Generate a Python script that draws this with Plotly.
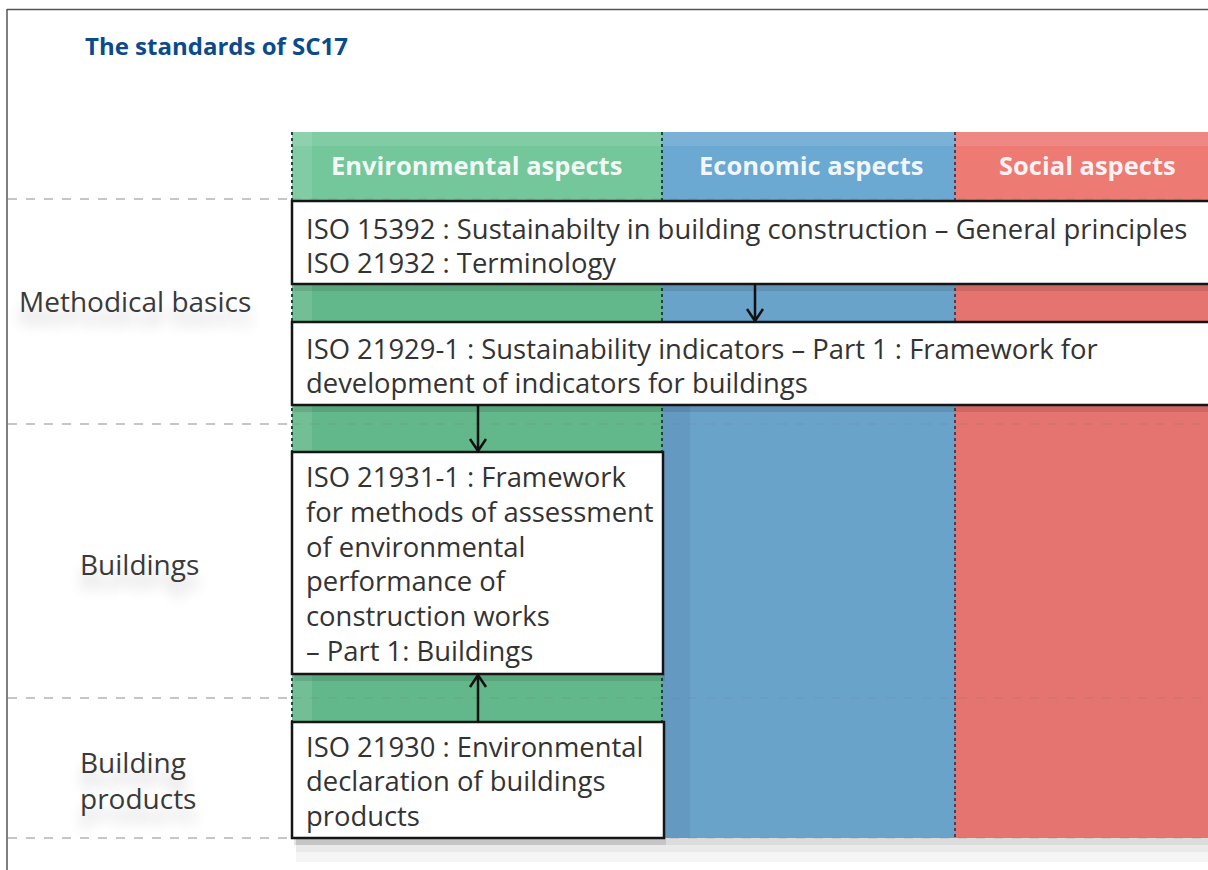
import plotly.graph_objects as go

# ---------------- data (texts) ----------------
TITLE = "The standards of SC17"
aspects = ["Environmental aspects", "Economic aspects", "Social aspects"]
levels = ["Methodical basics", "Buildings", "Building<br>products"]
std_general = ["ISO 15392 : Sustainabilty in building construction – General principles",
               "ISO 21932 : Terminology"]
std_indicators = ["ISO 21929-1 : Sustainability indicators – Part 1 : Framework for",
                  "development of indicators for buildings"]
std_buildings = ["ISO 21931-1 : Framework", "for methods of assessment", "of environmental",
                 "performance of", "construction works", "– Part 1: Buildings"]
std_products = ["ISO 21930 : Environmental", "declaration of buildings", "products"]

# ---------------- layout constants ----------------
W, H = 1208, 870
COL_X = [292, 662, 955, 1215]
HEAD_Y0, HEAD_Y1 = 132, 200
BODY_Y1 = 838
HEAD_COLORS = ["#74c79b", "#6ba9d3", "#ee7a74"]
BODY_COLORS = ["#62b88a", "#6aa3ca", "#e5736f"]
DIVIDER_COLORS = ["#1e4a35", "#1e4a35", "#5a3a4a"]
LEVEL_LINES = [199, 424, 698, 838]
TEXT_FONT = "Open Sans"
TEXT_COLOR = "#333333"
BOX_FS = 27.4

boxes = [
    dict(x0=292, x1=1215, y0=201, y1=284, lines=std_general, ty=228, step=34.5),
    dict(x0=292, x1=1215, y0=322, y1=405, lines=std_indicators, ty=348, step=34.5),
    dict(x0=292, x1=663, y0=452, y1=674, lines=std_buildings, ty=476.5, step=34.8),
    dict(x0=292, x1=664, y0=722, y1=838, lines=std_products, ty=746.5, step=34.3),
]
arrows = [(755, 284, 322), (478, 405, 452), (478, 722, 674)]
level_pos = [(17, 301), (78, 564), (78, 780)]
header_cx = [476, 811, 1087]

shapes = []
annotations = []

# outer frame
shapes.append(dict(type="line", x0=7, x1=7, y0=9, y1=H + 5, line=dict(color="#555", width=1.5)))
shapes.append(dict(type="line", x0=7, x1=W + 5, y0=9.5, y1=9.5, line=dict(color="#555", width=1.5)))

# bottom shadow under column block
for dy0, dy1, a in [(0, 7, 0.18), (7, 14, 0.11), (14, 24, 0.05)]:
    shapes.append(dict(type="rect", x0=296, x1=W + 5, y0=BODY_Y1 + dy0, y1=BODY_Y1 + dy1,
                       line=dict(width=0), fillcolor=f"rgba(60,60,60,{a})"))

# columns
for i in range(3):
    x0, x1 = COL_X[i], COL_X[i + 1]
    shapes.append(dict(type="rect", x0=x0, x1=x1, y0=HEAD_Y1, y1=BODY_Y1,
                       line=dict(width=0), fillcolor=BODY_COLORS[i]))
    shapes.append(dict(type="rect", x0=x0, x1=x1, y0=HEAD_Y0, y1=HEAD_Y1,
                       line=dict(width=0), fillcolor=HEAD_COLORS[i]))
    shapes.append(dict(type="rect", x0=x0, x1=x1, y0=HEAD_Y0, y1=HEAD_Y0 + 14,
                       line=dict(width=0), fillcolor="rgba(255,255,255,0.10)"))

for i in range(3):
    annotations.append(dict(x=header_cx[i], y=165,
                            text=f"<b>{aspects[i]}</b>", showarrow=False,
                            xanchor="center", yanchor="middle",
                            font=dict(family=TEXT_FONT, size=25.5, color="rgba(255,255,255,0.92)")))

# light left edge of green column
shapes.append(dict(type="rect", x0=292, x1=312, y0=HEAD_Y0, y1=BODY_Y1,
                   line=dict(width=0), fillcolor="rgba(255,255,255,0.10)"))
# shade at left edge of blue column
shapes.append(dict(type="rect", x0=662, x1=690, y0=405, y1=BODY_Y1,
                   line=dict(width=0), fillcolor="rgba(0,0,60,0.05)"))

# level separators (dashed, faint)
for y in LEVEL_LINES:
    shapes.append(dict(type="line", x0=8, x1=292, y0=y, y1=y,
                       line=dict(color="rgba(160,160,160,0.8)", width=1.5, dash="dash")))
    shapes.append(dict(type="line", x0=292, x1=W + 5, y0=y, y1=y,
                       line=dict(color="rgba(120,120,120,0.30)", width=1.2, dash="dash")))

# column dividers (dotted)
for j, x in enumerate(COL_X[:3]):
    shapes.append(dict(type="line", x0=x, x1=x, y0=HEAD_Y0, y1=BODY_Y1,
                       line=dict(color=DIVIDER_COLORS[j], width=2, dash="dot")))

# boxes with shadows
for b in boxes:
    shapes.append(dict(type="rect", x0=b["x0"] + 2, x1=b["x1"] + 2, y0=b["y1"], y1=b["y1"] + 7,
                       line=dict(width=0), fillcolor="rgba(0,0,0,0.10)"))
    shapes.append(dict(type="rect", x0=b["x0"], x1=b["x1"], y0=b["y0"], y1=b["y1"],
                       line=dict(color="#151515", width=2.5), fillcolor="#ffffff"))
    for k, line in enumerate(b["lines"]):
        annotations.append(dict(x=b["x0"] + 12, y=b["ty"] + k * b["step"], text=line,
                                showarrow=False, xanchor="left", yanchor="middle",
                                font=dict(family=TEXT_FONT, size=BOX_FS, color=TEXT_COLOR)))

# arrows (line + open chevron head)
for x, ys, ye in arrows:
    d = 1 if ye > ys else -1
    shapes.append(dict(type="path",
                       path=f"M {x},{ys} L {x},{ye - d*1} M {x-8},{ye - d*13} L {x},{ye - d*1} L {x+8},{ye - d*13}",
                       line=dict(color="#111111", width=2.5)))

# title
annotations.append(dict(x=83, y=45, text=f"<b>{TITLE}</b>", showarrow=False,
                        xanchor="left", yanchor="middle",
                        font=dict(family=TEXT_FONT, size=24, color="#0b4a8b")))

# level labels with soft shadow
for (x, y), lab in zip(level_pos, levels):
    annotations.append(dict(x=x, y=y, text=lab, showarrow=False, xanchor="left",
                            yanchor="middle", align="left",
                            font=dict(family=TEXT_FONT, size=28, color="#3a3a3a",
                                      shadow="0px 14px 14px rgba(0,0,0,0.20)")))

fig = go.Figure()
fig.update_layout(
    width=W, height=H,
    margin=dict(l=0, r=0, t=0, b=0),
    paper_bgcolor="white", plot_bgcolor="white",
    xaxis=dict(range=[0, W], visible=False, fixedrange=True),
    yaxis=dict(range=[H, 0], visible=False, fixedrange=True),
    shapes=shapes, annotations=annotations, showlegend=False,
)
fig.write_html("out.html", config={"displayModeBar": False},
               post_script="document.body.style.margin='0';document.body.style.overflow='hidden';")
